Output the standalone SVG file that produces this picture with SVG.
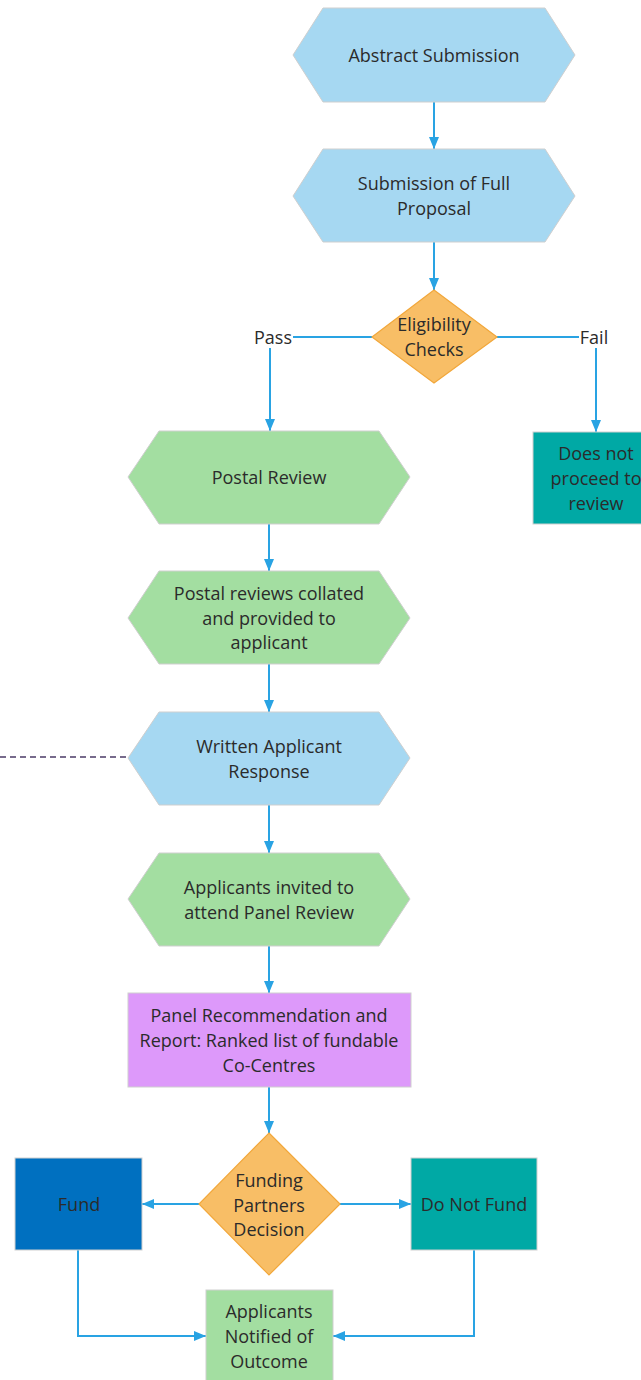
<svg xmlns="http://www.w3.org/2000/svg" width="641" height="1380" viewBox="0 0 641 1380">
<defs>
<marker id="arr" viewBox="0 0 12 10" refX="12" refY="5" markerWidth="12" markerHeight="10" markerUnits="userSpaceOnUse" orient="auto">
<path d="M0,0 L12,5 L0,10 Z" fill="#29a3e3"/>
</marker>
</defs>
<style>
text{font-family:"Open Sans","Noto Sans","Liberation Sans",sans-serif;font-size:18px;fill:#2b2b2b;text-anchor:middle;dominant-baseline:central}
.blue{fill:#a6d8f2;stroke:#cfcfcf;stroke-width:1}
.green{fill:#a3dea1;stroke:#cfcfcf;stroke-width:1}
.orange{fill:#f8be66;stroke:#f2a73a;stroke-width:1.2}
.teal{fill:#00a9a5;stroke:#cfcfcf;stroke-width:1}
.dblue{fill:#0070c0;stroke:#cfcfcf;stroke-width:1}
.purple{fill:#dd99fa;stroke:#cfcfcf;stroke-width:1}
.conn{fill:none;stroke:#29a3e3;stroke-width:2}
.arr{marker-end:url(#arr)}
.lbl{fill:#ffffff}
</style>
<g id="connectors">
<path class="conn arr" d="M434,102 V149"/>
<path class="conn arr" d="M434,242 V290"/>
<path class="conn arr" d="M372,337 H270 V431"/>
<path class="conn arr" d="M497,337 H596 V432"/>
<path class="conn arr" d="M269,524 V571"/>
<path class="conn arr" d="M269,664 V712"/>
<path class="conn arr" d="M269,805 V853"/>
<path class="conn arr" d="M269,946 V993"/>
<path class="conn arr" d="M269,1087 V1133"/>
<path class="conn arr" d="M199,1204 H142"/>
<path class="conn arr" d="M340,1204 H411"/>
<path class="conn arr" d="M78,1250 V1336 H206"/>
<path class="conn arr" d="M474,1250 V1336 H333"/>
<path d="M0,757 H133" fill="none" stroke="#776b8c" stroke-width="2" stroke-dasharray="6,4"/>
<rect class="lbl" x="253" y="326" width="40" height="22"/>
<text x="273" y="337">Pass</text>
<rect class="lbl" x="579" y="326" width="30" height="22"/>
<text x="594" y="337">Fail</text>
</g>
<g id="abstract">
<polygon class="blue" points="293,55 323,8 545,8 575,55 545,102 323,102"/>
<text x="434" y="55">Abstract Submission</text>
</g>
<g id="full-proposal">
<polygon class="blue" points="293,196 323,149 545,149 575,196 545,242 323,242"/>
<text x="434" y="183">Submission of Full</text>
<text x="434" y="208">Proposal</text>
</g>
<g id="eligibility">
<polygon class="orange" points="434,290 497,337 434,383 372,337"/>
<text x="434" y="324">Eligibility</text>
<text x="434" y="349">Checks</text>
</g>
<g id="not-proceed">
<rect class="teal" x="533" y="432" width="126" height="92"/>
<text x="596" y="453">Does not</text>
<text x="596" y="478">proceed to</text>
<text x="596" y="503">review</text>
</g>
<g id="postal-review">
<polygon class="green" points="128,477 159,431 379,431 410,477 379,524 159,524"/>
<text x="269" y="477">Postal Review</text>
</g>
<g id="postal-collated">
<polygon class="green" points="128,618 159,571 379,571 410,618 379,664 159,664"/>
<text x="269" y="593">Postal reviews collated</text>
<text x="269" y="618">and provided to</text>
<text x="269" y="642">applicant</text>
</g>
<g id="written-response">
<polygon class="blue" points="128,758 159,712 379,712 410,758 379,805 159,805"/>
<text x="269" y="746">Written Applicant</text>
<text x="269" y="771">Response</text>
</g>
<g id="invited">
<polygon class="green" points="128,899 159,853 379,853 410,899 379,946 159,946"/>
<text x="269" y="887">Applicants invited to</text>
<text x="269" y="912">attend Panel Review</text>
</g>
<g id="panel">
<rect class="purple" x="128" y="993" width="283" height="94"/>
<text x="269" y="1015">Panel Recommendation and</text>
<text x="269" y="1040">Report: Ranked list of fundable</text>
<text x="269" y="1065">Co-Centres</text>
</g>
<g id="decision">
<polygon class="orange" points="269,1133 340,1204 269,1275 199,1204"/>
<text x="269" y="1180">Funding</text>
<text x="269" y="1205">Partners</text>
<text x="269" y="1229">Decision</text>
</g>
<g id="fund">
<rect class="dblue" x="15" y="1158" width="127" height="92"/>
<text x="79" y="1204">Fund</text>
</g>
<g id="do-not-fund">
<rect class="teal" x="411" y="1158" width="126" height="92"/>
<text x="474" y="1204">Do Not Fund</text>
</g>
<g id="notified">
<rect class="green" x="206" y="1290" width="127" height="96"/>
<text x="269" y="1311">Applicants</text>
<text x="269" y="1336">Notified of</text>
<text x="269" y="1361">Outcome</text>
</g>
</svg>
